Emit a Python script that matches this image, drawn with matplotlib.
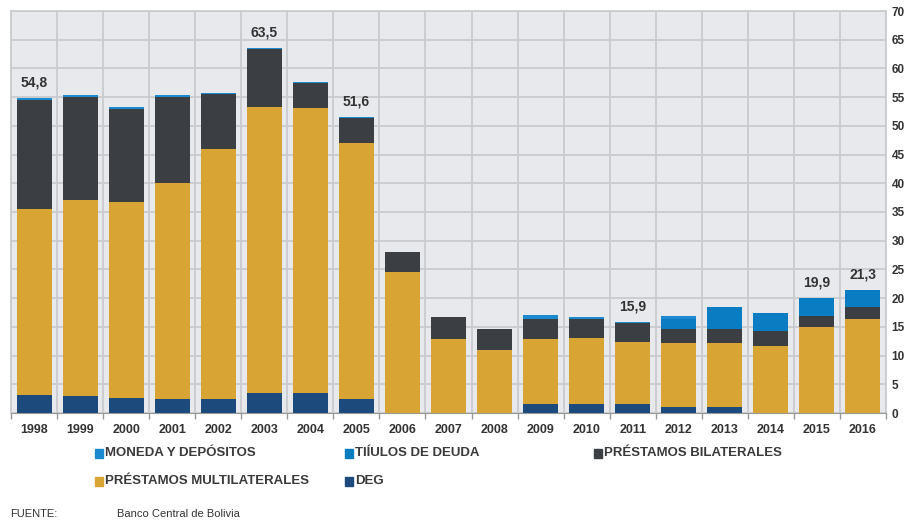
import matplotlib.pyplot as plt
from matplotlib.patches import Rectangle
import numpy as np

years = ["1998", "1999", "2000", "2001", "2002", "2003", "2004", "2005", "2006", "2007",
         "2008", "2009", "2010", "2011", "2012", "2013", "2014", "2015", "2016"]
deg = [3.1, 2.9, 2.6, 2.4, 2.4, 3.4, 3.4, 2.4, 0, 0, 0, 1.5, 1.5, 1.5, 1.0, 1.0, 0, 0, 0]
multilaterales = [32.4, 34.2, 34.1, 37.6, 43.6, 49.9, 49.7, 44.7, 24.6, 12.9,
                  11.0, 11.4, 11.6, 10.9, 11.2, 11.2, 11.7, 15.0, 16.4]
bilaterales = [19.0, 17.9, 16.2, 15.1, 9.5, 10.0, 4.3, 4.3, 3.5, 3.9,
               3.6, 3.4, 3.2, 3.3, 2.4, 2.5, 2.6, 1.9, 2.0]
titulos = [0, 0, 0, 0, 0, 0, 0, 0, 0, 0, 0, 0, 0, 0, 1.8, 3.7, 3.2, 3.1, 3.0]
moneda = [0.3, 0.3, 0.3, 0.3, 0.2, 0.2, 0.2, 0.2, 0, 0, 0, 0.7, 0.4, 0.2, 0.5, 0, 0, 0, 0]

# etiquetas de totales
label_idx = [0, 5, 7, 13, 17, 18]
label_txt = ["54,8", "63,5", "51,6", "15,9", "19,9", "21,3"]

c_deg = "#1d4a7d"
c_multi = "#d8a434"
c_bil = "#3b3e43"
c_tit = "#0a7cc2"
c_mon = "#1b8ace"

plt.rcParams["font.family"] = ["Liberation Sans", "DejaVu Sans"]

fig = plt.figure(figsize=(9.07, 5.21), dpi=100)
ax = fig.add_axes([11 / 907, 1 - 413 / 521, 875 / 907, 402 / 521])
ax.set_facecolor("#e7e9ec")

x = np.arange(len(years))
w = 0.76
bottom = np.zeros(len(years))
for vals, col in [(deg, c_deg), (multilaterales, c_multi), (bilaterales, c_bil),
                  (titulos, c_tit), (moneda, c_mon)]:
    ax.bar(x, vals, w, bottom=bottom, color=col, edgecolor="none", zorder=3)
    bottom = bottom + np.array(vals)

for i, t in zip(label_idx, label_txt):
    ax.annotate(t, (x[i], bottom[i]), xytext=(0, 6), textcoords="offset points",
                ha="center", va="bottom", fontsize=10, fontweight="bold", color="#333333")

ax.set_xlim(-0.5, len(years) - 0.5)
ax.set_ylim(0, 70)
ax.set_yticks(np.arange(0, 71, 5))
ax.yaxis.tick_right()
ax.tick_params(axis="y", length=0, pad=4, labelsize=8.5, labelcolor="#333333")
for lab in ax.get_yticklabels():
    lab.set_fontweight("bold")

ax.set_xticks(x)
ax.set_xticklabels(years, fontsize=9, fontweight="bold", color="#333333")
ax.set_xticks(np.arange(-0.5, len(years), 1), minor=True)
ax.tick_params(axis="x", which="major", length=0, pad=8)
ax.tick_params(axis="x", which="minor", length=4, color="#999999", width=1)

ax.grid(axis="y", color="#c9cbce", linewidth=1.3, zorder=0)
ax.grid(axis="x", which="minor", color="#c9cbce", linewidth=1.3, zorder=0)
for s in ["top", "left", "right"]:
    ax.spines[s].set_color("#c9cbce")
    ax.spines[s].set_linewidth(1.3)
ax.spines["bottom"].set_color("#999999")

# leyenda
items = [("MONEDA Y DEPÓSITOS", c_mon, 95, 453), ("TIÍULOS DE DEUDA", c_tit, 345, 453),
         ("PRÉSTAMOS BILATERALES", c_bil, 594, 453),
         ("PRÉSTAMOS MULTILATERALES", c_multi, 95, 481), ("DEG", c_deg, 345, 481)]
for txt, col, px, py in items:
    fig.patches.append(Rectangle((px / 907, 1 - (py + 5) / 521), 8 / 907, 9 / 521,
                                 transform=fig.transFigure, color=col))
    fig.text((px + 10) / 907, 1 - py / 521, txt, fontsize=9.5, fontweight="bold",
             color="#3a3a3a", va="center", ha="left")

fig.text(10 / 907, 1 - 514 / 521, "FUENTE:", fontsize=8, color="#333333", va="center")
fig.text(117 / 907, 1 - 514 / 521, "Banco Central de Bolivia", fontsize=8,
         color="#333333", va="center")

fig.savefig("out.png", dpi=100)
